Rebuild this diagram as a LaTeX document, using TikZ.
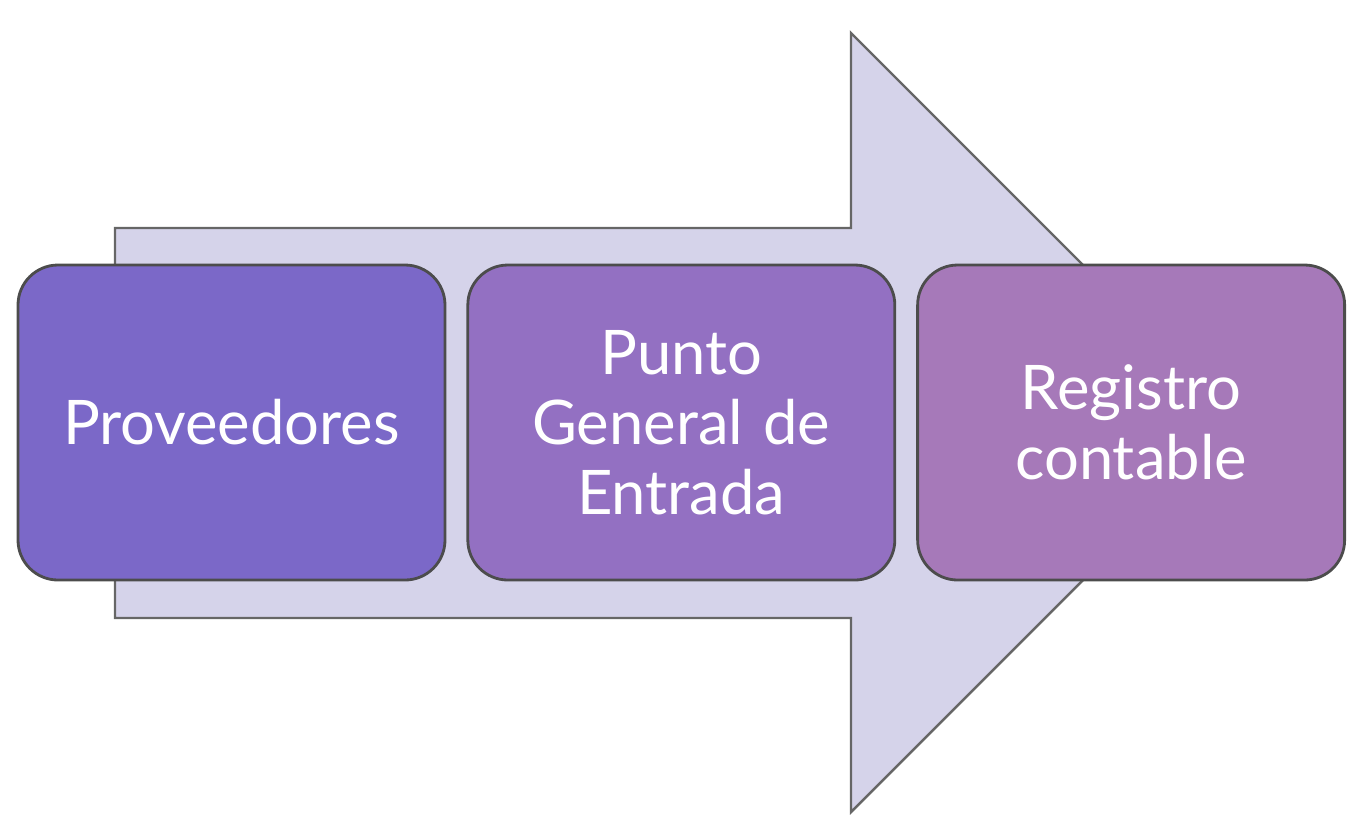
\documentclass[tikz,border=0pt]{standalone}
\usepackage{fontspec}
\setmainfont{Lato}
\usepackage{xcolor}
\usetikzlibrary{positioning}
\definecolor{arrowfill}{HTML}{D5D3EA}
\definecolor{stepA}{HTML}{7B68C8}
\definecolor{stepB}{HTML}{9370C2}
\definecolor{stepC}{HTML}{A679B9}
\tikzset{
    big arrow/.style={fill=arrowfill,draw=black!60,line width=0.7pt},
    step box/.style={rectangle,rounded corners=0.4cm,fill=#1,draw=black!70,line width=0.8pt,
        minimum width=4.27cm,minimum height=3.15cm,text width=3.9cm,align=center,
        text=white,font=\fontsize{17.5}{20}\selectfont},
}

\begin{document}
\begin{tikzpicture}
        \useasboundingbox (0,0) rectangle (13.54,-8.16);
        \draw[big arrow] (1.15,-2.28) -- (8.51,-2.28) -- (8.51,-0.33) -- (12.405,-4.225)
            -- (8.51,-8.12) -- (8.51,-6.18) -- (1.15,-6.18) -- cycle;

        \node[step box=stepA] (prov) at (2.315,-4.225) {Proveedores};
        \node[step box=stepB,right=0.2cm of prov] (entrada) {Punto\\General de\\Entrada};
        \node[step box=stepC,right=0.2cm of entrada] (registro) {Registro\\contable};
    \end{tikzpicture}
\end{document}
